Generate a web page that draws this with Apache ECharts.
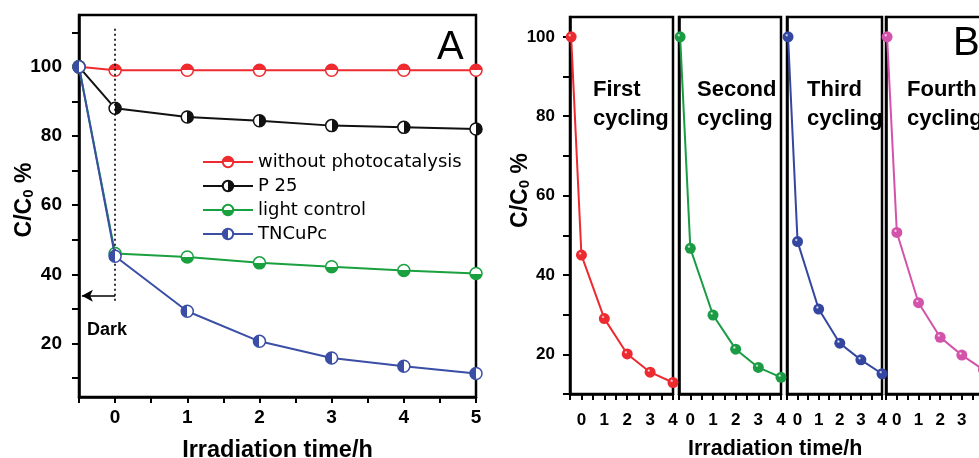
<!DOCTYPE html>
<html><head><meta charset="utf-8">
<script src="https://cdn.jsdelivr.net/npm/echarts@6/dist/echarts.min.js"></script>
<style>html,body{margin:0;padding:0;background:#fff}#c{width:979px;height:458px}</style>
</head><body><div id="c"></div>
<script>
// ---------- Panel A data ----------
const timeA = [-0.5, 0, 1, 2, 3, 4, 5];
const withoutPhoto = [100, 99, 99, 99, 99, 99, 99];
const p25 = [100, 88, 85.5, 84.4, 83, 82.5, 82];
const lightControl = [100, 46, 45, 43.3, 42.2, 41.1, 40.2];
const tncupc = [100, 45.2, 29.3, 20.6, 15.8, 13.4, 11.3];
const namesA = ['without photocatalysis', 'P 25', 'light control', 'TNCuPc'];
const xLabelsA = [0, 1, 2, 3, 4, 5];
const xTicksA = [-0.5, 0, 0.5, 1, 1.5, 2, 2.5, 3, 3.5, 4, 4.5, 5];
const yLabelsA = [20, 40, 60, 80, 100];
const yTicksA = [10, 20, 30, 40, 50, 60, 70, 80, 90, 100, 110];
const darkLine = [[0, 111], [0, 31.8]];
const darkArrow = [[0, 33.8], [-0.46, 33.8]];

// ---------- Panel B data ----------
const timeB = [-0.45, 0, 1, 2, 3, 4];
const cycle1 = [100, 45, 29, 20.1, 15.5, 12.9];
const cycle2 = [100, 46.7, 29.9, 21.3, 16.7, 14.2];
const cycle3 = [100, 48.4, 31.4, 22.8, 18.6, 15.1];
const cycle4 = [100, 50.7, 33.0, 24.3, 19.8, 16.1];
const cycleLabels = ['First\ncycling', 'Second\ncycling', 'Third\ncycling', 'Fourth\ncycling'];
const xLabelsB = [0, 1, 2, 3, 4];
const xTicksB = [-0.5, 0, 0.5, 1, 1.5, 2, 2.5, 3, 3.5, 4];
const yLabelsB = [20, 40, 60, 80, 100];
const yTicksB = [10, 20, 30, 40, 50, 60, 70, 80, 90, 100];

const FONT = 'Liberation Sans, Arial, sans-serif';
const colorsA = ['#ee2b2f', '#111111', '#19a03f', '#3a4ea6'];
const colorsB = ['#ec2a30', '#1b9c44', '#3447a0', '#d253a9'];

function half(c, dir) {
  const w = '#ffffff';
  const vertical = dir === 'top' || dir === 'bottom';
  const first = (dir === 'top' || dir === 'left') ? c : w;
  const second = first === c ? w : c;
  return { type: 'linear', x: 0, y: 0, x2: vertical ? 0 : 1, y2: vertical ? 1 : 0,
    colorStops: [{offset: 0, color: first}, {offset: 0.5, color: first},
                 {offset: 0.5, color: second}, {offset: 1, color: second}] };
}
function sphere(c) {
  return { type: 'radial', x: 0.38, y: 0.35, r: 0.7,
    colorStops: [{offset: 0, color: '#ffffff'}, {offset: 0.22, color: c}, {offset: 1, color: c}] };
}
const halves = ['top', 'right', 'bottom', 'left'];
const seriesA = [withoutPhoto, p25, lightControl, tncupc];
const seriesB = [cycle1, cycle2, cycle3, cycle4];

const gridsB = [
  {left: 570, top: 17, width: 103, height: 377},
  {left: 679, top: 17, width: 102, height: 377},
  {left: 787, top: 17, width: 95, height: 377},
  {left: 886, top: 17, width: 97.5, height: 377}
];

const tickA = {fontSize: 19, fontWeight: 'bold', color: '#000', fontFamily: FONT};
const tickB = {fontSize: 17, fontWeight: 'bold', color: '#000', fontFamily: FONT};
const grids = [{left: 79, top: 15, width: 397, height: 382}].concat(gridsB).map(g =>
  Object.assign({show: true, borderColor: '#000', borderWidth: 2.5, backgroundColor: 'transparent',
    outerBoundsMode: 'none', containLabel: false}, g));

function yName(shift) {
  return {
    name: 'C/C{s|0} %', nameLocation: 'middle', nameMoveOverlap: false,
    nameTextStyle: {fontSize: 23, fontWeight: 'bold', color: '#000', fontFamily: FONT,
      padding: [0, 0, 0, shift],
      rich: {s: {fontSize: 15, fontWeight: 'bold', color: '#000', fontFamily: FONT, verticalAlign: 'bottom'}}}
  };
}

const xAxes = [{
  gridIndex: 0, type: 'value', min: -0.5, max: 5,
  axisLine: {show: true, onZero: false, lineStyle: {color: '#000', width: 2.5}},
  axisTick: {show: true, customValues: xTicksA, length: 6, lineStyle: {color: '#000', width: 2}},
  axisLabel: Object.assign({customValues: xLabelsA, margin: 11}, tickA),
  splitLine: {show: false},
  name: 'Irradiation time/h', nameLocation: 'middle', nameGap: 42, nameMoveOverlap: false,
  nameTextStyle: {fontSize: 23.5, fontWeight: 'bold', color: '#000', fontFamily: FONT}
}];
const yAxes = [Object.assign({
  gridIndex: 0, type: 'value', min: 4.5, max: 115,
  axisLine: {show: true, onZero: false, lineStyle: {color: '#000', width: 2.5}},
  axisTick: {show: true, customValues: yTicksA, length: 7, lineStyle: {color: '#000', width: 2}},
  axisLabel: Object.assign({customValues: yLabelsA, margin: 17}, tickA),
  splitLine: {show: false}
}, yName(12), {nameGap: 42.5})];

gridsB.forEach((g, k) => {
  xAxes.push({
    gridIndex: k + 1, type: 'value', min: -0.5, max: 4,
    axisLine: {show: true, onZero: false, lineStyle: {color: '#000', width: 2.5}},
    axisTick: {show: true, customValues: xTicksB, length: 6, lineStyle: {color: '#000', width: 2}},
    axisLabel: Object.assign({customValues: xLabelsB, margin: 18}, tickB),
    splitLine: {show: false}
  });
  const y = {
    gridIndex: k + 1, type: 'value', min: 10, max: 105,
    axisLine: {show: true, onZero: false, lineStyle: {color: '#000', width: 2.5}},
    axisTick: {show: k === 0, customValues: yTicksB, length: 7, lineStyle: {color: '#000', width: 2}},
    axisLabel: Object.assign({show: k === 0, customValues: yLabelsB, margin: 15}, tickB),
    splitLine: {show: false}
  };
  if (k === 0) Object.assign(y, yName(30), {nameGap: 38});
  yAxes.push(y);
});

const series = [];
seriesA.forEach((vals, i) => {
  const s = {
    type: 'line', name: namesA[i], xAxisIndex: 0, yAxisIndex: 0,
    data: timeA.map((t, j) => [t, vals[j]]),
    symbol: 'circle', symbolSize: 12, showSymbol: true,
    lineStyle: {color: colorsA[i], width: 2},
    itemStyle: {color: half(colorsA[i], halves[i]), borderColor: colorsA[i], borderWidth: 1.5},
    emphasis: {disabled: true}, clip: false, z: 2 + i
  };
  if (i === 3) {
    s.markLine = {
      silent: true, animation: false, label: {show: false}, symbol: 'none',
      data: [
        [{coord: darkLine[0], symbol: 'none', lineStyle: {color: '#000', width: 1.6, type: [2, 3]}},
         {coord: darkLine[1], symbol: 'none'}],
        [{coord: darkArrow[0], symbol: 'none', lineStyle: {color: '#000', width: 1.6, type: 'solid'}},
         {coord: darkArrow[1], symbol: 'arrow', symbolSize: [9, 11]}]
      ]
    };
  }
  series.push(s);
});
seriesB.forEach((vals, k) => {
  series.push({
    type: 'line', name: 'cycle' + (k + 1), xAxisIndex: k + 1, yAxisIndex: k + 1,
    data: timeB.map((t, j) => [t, vals[j]]),
    symbol: 'circle', symbolSize: 11,
    lineStyle: {color: colorsB[k], width: 2},
    itemStyle: {color: sphere(colorsB[k])},
    emphasis: {disabled: true}, clip: true
  });
});

const graphic = [
  {type: 'text', left: 437, top: 28, style: {text: 'A', font: 'normal 40px ' + FONT, fill: '#000'}},
  {type: 'text', left: 953, top: 24, style: {text: 'B', font: 'normal 40px ' + FONT, fill: '#000'}},
  {type: 'text', left: 87, top: 321, style: {text: 'Dark', font: 'bold 18px ' + FONT, fill: '#000'}},
  {type: 'text', left: 688, top: 438, style: {text: 'Irradiation time/h', font: 'bold 21.5px ' + FONT, fill: '#000'}}
];
const cycleX = [593, 697, 807, 907];
cycleLabels.forEach((t, k) => {
  graphic.push({type: 'text', left: cycleX[k], top: 75,
    style: {text: t, font: 'bold 22px ' + FONT, fill: '#000', lineHeight: 29}});
});

const chart = echarts.init(document.getElementById('c'), null, {renderer: 'canvas'});
chart.setOption({
  animation: false,
  backgroundColor: '#fff',
  grid: grids,
  xAxis: xAxes,
  yAxis: yAxes,
  legend: {
    data: namesA, orient: 'vertical', left: 197, top: 148,
    itemWidth: 50, itemHeight: 13, itemGap: 6,
    textStyle: {fontSize: 18, color: '#000', fontFamily: 'DejaVu Sans, ' + FONT},
    selectedMode: false
  },
  graphic: graphic,
  series: series
});
</script></body></html>
